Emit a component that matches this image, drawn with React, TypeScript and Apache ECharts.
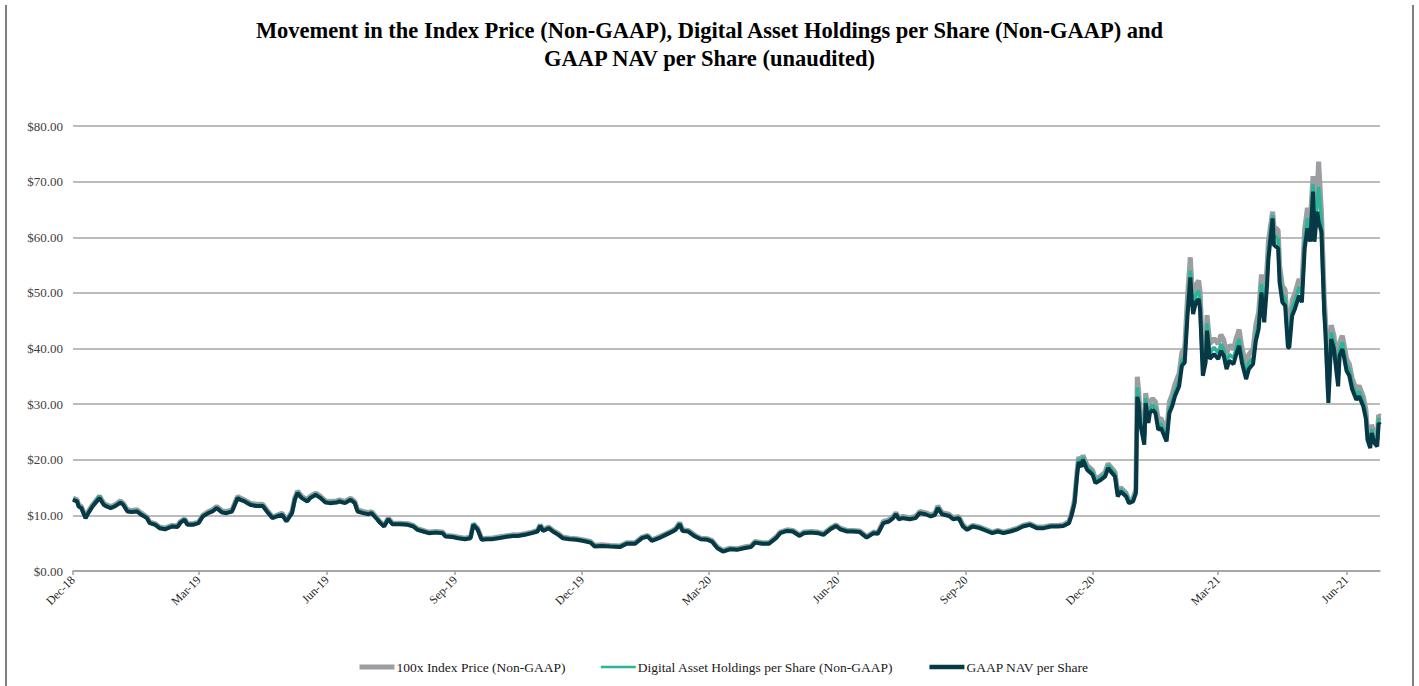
import React, { useEffect, useRef } from "react";
import * as echarts from "echarts";

const seriesNames = [
  "100x Index Price (Non-GAAP)",
  "Digital Asset Holdings per Share (Non-GAAP)",
  "GAAP NAV per Share",
];

const sampleDates = [
  "2018-12-01","2018-12-04","2018-12-05","2018-12-07","2018-12-10","2018-12-12","2018-12-15","2018-12-17","2018-12-20","2018-12-23",
  "2018-12-25","2018-12-28","2018-12-31","2019-01-04","2019-01-06","2019-01-09","2019-01-12","2019-01-16","2019-01-19","2019-01-23",
  "2019-01-25","2019-01-29","2019-02-01","2019-02-05","2019-02-10","2019-02-14","2019-02-16","2019-02-19","2019-02-21","2019-02-25",
  "2019-03-01","2019-03-04","2019-03-08","2019-03-11","2019-03-14","2019-03-18","2019-03-21","2019-03-25","2019-03-29","2019-03-31",
  "2019-04-03","2019-04-07","2019-04-11","2019-04-16","2019-04-19","2019-04-23","2019-04-26","2019-04-30","2019-05-03","2019-05-07",
  "2019-05-09","2019-05-11","2019-05-14","2019-05-18","2019-05-20","2019-05-24","2019-05-27","2019-05-31","2019-06-03","2019-06-08",
  "2019-06-10","2019-06-14","2019-06-18","2019-06-21","2019-06-23","2019-06-27","2019-07-01","2019-07-03","2019-07-07","2019-07-09",
  "2019-07-12","2019-07-15","2019-07-18","2019-07-23","2019-07-29","2019-08-02","2019-08-05","2019-08-09","2019-08-13","2019-08-18",
  "2019-08-23","2019-08-25","2019-08-30","2019-09-03","2019-09-08","2019-09-12","2019-09-14","2019-09-17","2019-09-20","2019-09-24",
  "2019-09-27","2019-10-02","2019-10-07","2019-10-12","2019-10-16","2019-10-21","2019-10-26","2019-10-30","2019-11-01","2019-11-03",
  "2019-11-07","2019-11-10","2019-11-14","2019-11-17","2019-11-22","2019-11-27","2019-12-02","2019-12-07","2019-12-10","2019-12-15",
  "2019-12-21","2019-12-28","2020-01-02","2020-01-08","2020-01-13","2020-01-17","2020-01-20","2020-01-25","2020-01-30","2020-02-04",
  "2020-02-06","2020-02-09","2020-02-11","2020-02-15","2020-02-20","2020-02-24","2020-02-29","2020-03-03","2020-03-07","2020-03-11",
  "2020-03-16","2020-03-21","2020-03-26","2020-03-31","2020-04-03","2020-04-08","2020-04-13","2020-04-18","2020-04-21","2020-04-26",
  "2020-04-30","2020-05-05","2020-05-08","2020-05-13","2020-05-18","2020-05-22","2020-05-27","2020-05-31","2020-06-03","2020-06-08",
  "2020-06-12","2020-06-17","2020-06-22","2020-06-27","2020-06-30","2020-07-04","2020-07-08","2020-07-11","2020-07-13","2020-07-15",
  "2020-07-18","2020-07-23","2020-07-27","2020-07-30","2020-08-03","2020-08-07","2020-08-10","2020-08-12","2020-08-15","2020-08-20",
  "2020-08-23","2020-08-27","2020-08-30","2020-09-02","2020-09-06","2020-09-11","2020-09-17","2020-09-20","2020-09-24","2020-09-28",
  "2020-10-03","2020-10-08","2020-10-12","2020-10-17","2020-10-22","2020-10-27","2020-11-01","2020-11-06","2020-11-10","2020-11-14",
  "2020-11-16","2020-11-18","2020-11-20","2020-11-21","2020-11-23","2020-11-24","2020-11-27","2020-12-01","2020-12-03","2020-12-07",
  "2020-12-10","2020-12-12","2020-12-15","2020-12-17","2020-12-19","2020-12-21","2020-12-25","2020-12-27","2020-12-30","2021-01-01",
  "2021-01-02","2021-01-03","2021-01-04","2021-01-07","2021-01-08","2021-01-10","2021-01-11","2021-01-13","2021-01-15","2021-01-17",
  "2021-01-19","2021-01-21","2021-01-23","2021-01-25","2021-01-27","2021-01-29","2021-02-01","2021-02-03","2021-02-05","2021-02-07",
  "2021-02-09","2021-02-10","2021-02-11","2021-02-13","2021-02-15","2021-02-16","2021-02-18","2021-02-20","2021-02-21","2021-02-23",
  "2021-02-26","2021-03-01","2021-03-03","2021-03-05","2021-03-07","2021-03-09","2021-03-12","2021-03-14","2021-03-16","2021-03-18",
  "2021-03-21","2021-03-23","2021-03-26","2021-03-28","2021-03-30","2021-04-01","2021-04-03","2021-04-05","2021-04-06","2021-04-09",
  "2021-04-10","2021-04-13","2021-04-14","2021-04-16","2021-04-18","2021-04-20","2021-04-21","2021-04-23","2021-04-25","2021-04-28",
  "2021-04-30","2021-05-02","2021-05-04","2021-05-06","2021-05-08","2021-05-09","2021-05-11","2021-05-12","2021-05-14","2021-05-16",
  "2021-05-17","2021-05-19","2021-05-21","2021-05-23","2021-05-24","2021-05-26","2021-05-27","2021-05-29","2021-05-30","2021-06-01",
  "2021-06-03","2021-06-05","2021-06-08","2021-06-10","2021-06-13","2021-06-15","2021-06-16","2021-06-18","2021-06-19","2021-06-21",
  "2021-06-23","2021-06-24","2021-06-25",
];

const indexPrice100x = [
  13.1,12.8,11.9,11.6,9.7,10.7,11.9,12.5,13.5,12.2,
  11.9,11.6,11.9,12.6,12.2,11.0,10.9,11.0,10.4,9.7,
  8.8,8.5,7.9,7.7,8.2,8.1,8.9,9.4,8.5,8.5,
  8.8,10.0,10.7,11.0,11.6,10.8,10.7,11.0,13.4,13.1,
  12.8,12.2,12.0,12.0,11.0,9.7,10.0,10.4,9.1,10.7,
  13.1,14.4,13.4,12.8,13.4,14.0,13.5,12.6,12.5,12.6,
  12.8,12.5,13.1,12.5,11.0,10.7,10.5,10.7,9.5,8.9,
  8.2,9.5,8.6,8.6,8.5,8.2,7.6,7.3,7.0,7.1,
  7.0,6.4,6.3,6.1,5.9,6.1,8.5,7.7,5.8,5.9,
  5.9,6.1,6.3,6.5,6.5,6.7,7.0,7.3,8.3,7.4,
  7.9,7.3,6.7,6.1,5.9,5.8,5.6,5.3,4.6,4.7,
  4.6,4.5,5.1,5.1,6.1,6.4,5.6,6.1,6.7,7.3,
  7.6,8.7,7.4,7.3,6.4,5.9,5.8,5.5,4.3,3.7,
  4.1,4.0,4.3,4.5,5.3,5.1,5.1,6.1,7.0,7.4,
  7.3,6.5,7.0,7.1,7.0,6.7,7.7,8.3,7.7,7.3,
  7.3,7.2,6.2,7.0,6.9,8.9,9.2,9.8,10.5,9.6,
  9.8,9.6,9.8,10.7,10.5,10.1,10.4,11.7,10.5,10.2,
  9.6,9.8,8.3,7.6,8.2,7.9,7.3,7.0,7.3,7.0,
  7.3,7.7,8.2,8.5,7.9,7.9,8.2,8.2,8.3,8.9,
  10.5,12.7,18.4,20.5,19.6,20.8,19.0,18.1,16.5,17.1,
  17.8,19.3,18.4,17.8,14.0,15.0,14.0,12.8,13.1,14.7,
  34.9,32.4,28.4,24.3,32.0,28.4,30.4,31.0,30.4,27.2,
  27.5,26.2,25.0,30.4,31.7,33.6,35.5,39.3,40.1,49.3,
  56.4,52.0,49.4,51.4,52.2,50.3,37.8,40.2,46.0,40.8,
  41.8,40.8,42.5,41.6,39.0,40.6,39.9,41.9,43.4,40.2,
  37.0,38.9,39.9,44.3,46.5,53.3,47.6,54.6,59.3,64.6,
  62.0,61.2,55.0,51.2,50.6,42.6,42.6,48.7,49.9,52.5,
  51.2,61.5,65.3,62.8,71.0,62.8,68.5,73.6,64.7,49.3,
  44.8,32.0,44.2,42.3,39.8,35.2,41.0,42.3,41.0,38.2,
  37.2,34.7,32.6,33.3,31.4,28.8,25.0,23.4,26.3,24.4,
  23.7,28.0,27.8,
];

const digitalAssetHoldings = [
  12.9,12.6,11.7,11.4,9.6,10.5,11.8,12.4,13.5,12.0,
  11.7,11.4,11.7,12.4,12.0,10.8,10.7,10.8,10.2,9.6,
  8.7,8.4,7.8,7.6,8.1,8.0,8.8,9.3,8.4,8.4,
  8.7,9.9,10.5,10.8,11.4,10.6,10.5,10.8,13.2,12.9,
  12.6,12.0,11.8,11.8,10.8,9.6,9.9,10.2,9.0,10.5,
  12.9,14.2,13.2,12.6,13.2,13.8,13.3,12.4,12.3,12.4,
  12.6,12.3,12.9,12.3,10.8,10.5,10.3,10.5,9.4,8.8,
  8.1,9.4,8.5,8.5,8.4,8.1,7.5,7.2,6.9,7.0,
  6.9,6.3,6.2,6.0,5.8,6.0,8.5,7.6,5.7,5.8,
  5.8,6.0,6.2,6.4,6.4,6.6,6.9,7.2,8.2,7.3,
  7.8,7.2,6.6,6.0,5.8,5.7,5.5,5.2,4.5,4.6,
  4.5,4.4,5.0,5.0,6.0,6.3,5.5,6.0,6.6,7.2,
  7.5,8.6,7.3,7.2,6.3,5.8,5.7,5.4,4.2,3.6,
  4.0,3.9,4.2,4.4,5.2,5.0,5.0,6.0,6.9,7.3,
  7.2,6.4,6.9,7.0,6.9,6.6,7.6,8.2,7.6,7.2,
  7.2,7.1,6.1,6.9,6.8,8.7,9.0,9.6,10.3,9.4,
  9.6,9.4,9.6,10.5,10.3,9.9,10.2,11.5,10.3,10.0,
  9.4,9.6,8.1,7.5,8.1,7.8,7.2,6.9,7.2,6.9,
  7.2,7.6,8.1,8.4,7.8,7.8,8.1,8.1,8.2,8.7,
  10.3,12.5,18.1,20.1,19.2,20.5,18.7,17.8,16.2,16.8,
  17.5,19.0,18.1,17.5,13.8,14.7,13.8,12.5,12.8,14.4,
  33.0,31.1,27.4,23.4,31.1,27.4,29.2,29.9,29.2,26.2,
  26.5,25.2,24.0,29.2,30.5,32.3,34.2,38.0,38.6,47.3,
  54.0,50.4,47.6,49.7,50.4,48.5,36.2,38.6,44.5,39.2,
  40.2,39.2,40.8,39.9,37.4,38.9,38.3,40.2,41.7,38.6,
  35.5,37.4,38.3,42.6,44.8,51.6,46.0,52.8,57.8,64.0,
  60.4,59.7,53.5,49.7,49.1,41.4,41.4,47.3,48.5,51.0,
  49.7,59.7,63.4,61.0,69.5,61.0,66.5,69.0,62.8,47.9,
  43.6,31.1,42.9,41.1,38.6,34.2,39.9,41.1,39.9,37.1,
  36.2,33.7,31.7,32.3,30.5,28.0,24.3,22.8,25.5,23.7,
  23.1,27.4,27.1,
];

const gaapNavPerShare = [
  12.8,12.5,11.6,11.3,9.5,10.4,11.6,12.2,13.1,11.9,
  11.6,11.3,11.6,12.3,11.9,10.7,10.6,10.7,10.1,9.5,
  8.6,8.3,7.7,7.5,8.0,7.9,8.7,9.2,8.3,8.3,
  8.6,9.8,10.4,10.7,11.3,10.5,10.4,10.7,13.1,12.8,
  12.5,11.9,11.7,11.7,10.7,9.5,9.8,10.1,8.9,10.4,
  12.8,14.0,13.1,12.5,13.1,13.7,13.2,12.3,12.2,12.3,
  12.5,12.2,12.8,12.2,10.7,10.4,10.2,10.4,9.3,8.7,
  8.0,9.3,8.4,8.4,8.3,8.0,7.4,7.1,6.8,6.9,
  6.8,6.2,6.1,5.9,5.7,5.9,8.3,7.5,5.6,5.7,
  5.7,5.9,6.1,6.3,6.3,6.5,6.8,7.1,8.1,7.2,
  7.7,7.1,6.5,5.9,5.7,5.6,5.4,5.1,4.4,4.5,
  4.4,4.3,4.9,4.9,5.9,6.2,5.4,5.9,6.5,7.1,
  7.4,8.4,7.2,7.1,6.2,5.7,5.6,5.3,4.1,3.5,
  3.9,3.8,4.1,4.3,5.1,4.9,4.9,5.9,6.8,7.2,
  7.1,6.3,6.8,6.9,6.8,6.5,7.5,8.1,7.5,7.1,
  7.1,7.0,6.0,6.8,6.7,8.6,8.9,9.5,10.2,9.3,
  9.5,9.3,9.5,10.4,10.2,9.8,10.1,11.3,10.2,9.9,
  9.3,9.5,8.0,7.4,8.0,7.7,7.1,6.8,7.1,6.8,
  7.1,7.5,8.0,8.3,7.7,7.7,8.0,8.0,8.1,8.6,
  10.1,12.2,17.6,19.6,18.7,20.0,18.2,17.3,15.8,16.4,
  17.0,18.5,17.6,17.0,13.4,14.3,13.4,12.2,12.5,14.0,
  31.3,30.2,26.6,22.7,30.2,26.6,28.4,29.0,28.4,25.4,
  25.7,24.5,23.3,28.4,29.6,31.4,33.2,36.9,37.5,45.9,
  52.8,48.9,46.2,48.3,48.9,47.1,35.1,37.5,43.2,38.1,
  39.0,38.1,39.6,38.7,36.3,37.8,37.2,39.0,40.5,37.5,
  34.5,36.3,37.2,41.4,43.5,50.1,44.7,51.3,56.1,63.4,
  58.6,58.0,51.9,48.3,47.7,40.2,40.2,45.9,47.1,49.5,
  48.3,58.0,61.6,59.2,68.2,59.2,64.6,62.8,61.0,46.5,
  42.3,30.2,41.7,39.9,37.5,33.2,38.7,39.9,38.7,36.0,
  35.1,32.7,30.8,31.4,29.6,27.2,23.6,22.1,24.8,23.0,
  22.4,26.6,26.3,
];

const axisStart = "2018-12-01";
const axisEnd = "2021-06-25";
const quarterMonths = ["12", "03", "06", "09"];
const monthNames = ["Jan","Feb","Mar","Apr","May","Jun","Jul","Aug","Sep","Oct","Nov","Dec"];
const yTicks = { min: 0, max: 80, interval: 10 };

const SERIF = "'Liberation Serif', 'Times New Roman', serif";
const COLORS = ["#9c9ea1", "#2bb597", "#073845"];

function buildDayCategories(start: string, end: string): string[] {
  const out: string[] = [];
  const s = new Date(start + "T00:00:00Z").getTime();
  const e = new Date(end + "T00:00:00Z").getTime();
  for (let t = s; t <= e; t += 86400000) {
    out.push(new Date(t).toISOString().slice(0, 10));
  }
  return out;
}

function isQuarterTick(d: string): boolean {
  return d.slice(8, 10) === "01" && quarterMonths.includes(d.slice(5, 7));
}

function fmtMonth(d: string): string {
  const m = parseInt(d.slice(5, 7), 10);
  return monthNames[m - 1] + "-" + d.slice(2, 4);
}

export default function App() {
  const ref = useRef<HTMLDivElement>(null);
  useEffect(() => {
    if (!ref.current) return;
    const chart = echarts.init(ref.current, null, { renderer: "svg" });
    const categories = buildDayCategories(axisStart, axisEnd);
    const pair = (vals: number[]) => sampleDates.map((d, i) => [d, vals[i]]);
    chart.setOption({
      animation: false,
      backgroundColor: "#ffffff",
      title: {
        text:
          "Movement in the Index Price (Non-GAAP), Digital Asset Holdings per Share (Non-GAAP) and\nGAAP NAV per Share (unaudited)",
        left: "center",
        top: 11,
        textStyle: {
          fontFamily: SERIF,
          fontWeight: "bold",
          fontSize: 22.5,
          lineHeight: 28,
          color: "#000000",
        },
      },
      legend: {
        bottom: 7,
        left: 352,
        itemGap: 34,
        itemWidth: 35,
        itemHeight: 12,
        itemStyle: { opacity: 0 },
        textStyle: { fontFamily: SERIF, fontSize: 13.5, color: "#1a1a1a", padding: [0, 0, 0, -3] },
        data: [
          { name: seriesNames[0], lineStyle: { width: 5, color: COLORS[0] } },
          { name: seriesNames[1], lineStyle: { width: 2.5, color: COLORS[1] } },
          { name: seriesNames[2], lineStyle: { width: 4.5, color: COLORS[2] } },
        ],
      },
      grid: { left: 73, right: 39, top: 126, bottom: 115, containLabel: false },
      xAxis: {
        type: "category",
        data: categories,
        boundaryGap: false,
        axisLine: { lineStyle: { color: "#a0a0a0", width: 1.5 } },
        axisTick: {
          show: true,
          length: 4,
          interval: (_i: number, v: string) => isQuarterTick(v),
          lineStyle: { color: "#a0a0a0", width: 1.5 },
        },
        axisLabel: {
          interval: (_i: number, v: string) => isQuarterTick(v),
          formatter: (v: string) => fmtMonth(v),
          rotate: 45,
          margin: 7,
          fontFamily: SERIF,
          fontSize: 12,
          color: "#262626",
        },
        splitLine: { show: false },
      },
      yAxis: {
        type: "value",
        min: yTicks.min,
        max: yTicks.max,
        interval: yTicks.interval,
        axisLine: { show: false },
        axisTick: { show: false },
        axisLabel: {
          formatter: (v: number) => "$" + v.toFixed(2),
          fontFamily: SERIF,
          fontSize: 13,
          color: "#404040",
          margin: 10,
        },
        splitLine: { lineStyle: { color: "#a6a6a6", width: 1.5 } },
      },
      graphic: [
        { type: "line", shape: { x1: 6, y1: 5, x2: 6, y2: 686 }, style: { stroke: "#808080", lineWidth: 2 } },
        { type: "line", shape: { x1: 1413, y1: 5, x2: 1413, y2: 686 }, style: { stroke: "#808080", lineWidth: 2 } },
      ],
      series: [
        {
          name: seriesNames[0],
          type: "line",
          symbol: "none",
          data: pair(indexPrice100x),
          lineStyle: { color: COLORS[0], width: 5 },
          itemStyle: { color: COLORS[0] },
        },
        {
          name: seriesNames[1],
          type: "line",
          symbol: "none",
          data: pair(digitalAssetHoldings),
          lineStyle: { color: COLORS[1], width: 3.5 },
          itemStyle: { color: COLORS[1] },
        },
        {
          name: seriesNames[2],
          type: "line",
          symbol: "none",
          data: pair(gaapNavPerShare),
          lineStyle: { color: COLORS[2], width: 4 },
          itemStyle: { color: COLORS[2] },
        },
      ],
    });
    return () => chart.dispose();
  }, []);
  return (
    <div
      ref={ref}
      style={{ position: "absolute", left: 0, top: 0, width: 1419, height: 686 }}
    />
  );
}
